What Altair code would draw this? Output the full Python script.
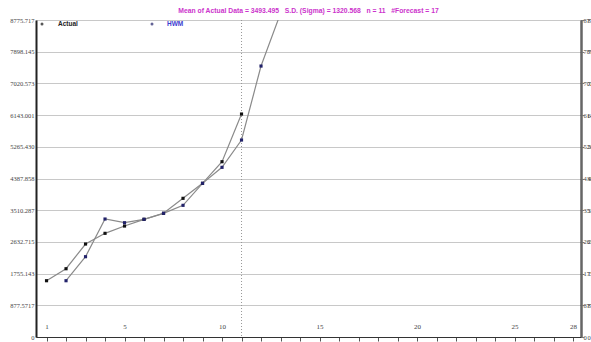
import altair as alt
import pandas as pd

# ---- data ----
x_actual = list(range(1, 12))
actual_values = [1558, 1890, 2574, 2870, 3072, 3258, 3424, 3839, 4254, 4853, 6173]
x_hwm = list(range(2, 14))
hwm_values = [1558, 2223, 3266, 3164, 3258, 3424, 3645, 4254, 4697, 5453, 7501, 8960]
series_names = ["Actual", "HWM"]
y_ticks = [0, 877.5717, 1755.143, 2632.715, 3510.287, 4387.858, 5265.430,
           6143.001, 7020.573, 7898.145, 8775.717]
x_ticks = list(range(1, 29))
x_label_values = [1, 5, 10, 15, 20, 25, 28]
last_actual = 11
title_text = ("Mean of Actual Data = 3493.495\u00a0\u00a0\u00a0S.D. (Sigma) = 1320.568"
              "\u00a0\u00a0\u00a0n = 11\u00a0\u00a0\u00a0#Forecast = 17")

df = pd.concat([
    pd.DataFrame({"x": x_actual, "value": actual_values, "series": series_names[0]}),
    pd.DataFrame({"x": x_hwm, "value": hwm_values, "series": series_names[1]}),
])

x_dom = [0.46, 28.41]
y_dom = [0, 8775.717]
lbl_font = "Liberation Serif"

y_label_expr = ("datum.value == 0 ? '0' : (datum.value < 1000 ? format(datum.value, '.4f')"
                " : format(datum.value, '.3f'))")
x_label_expr = "indexof(" + str(x_label_values) + ", datum.value) >= 0 ? datum.label : ''"

x_axis = alt.Axis(values=x_ticks, labelExpr=x_label_expr, title=None, grid=False,
                  domainColor="#333", domainWidth=1.2, tickColor="#555", tickSize=4,
                  labelBaseline="middle", labelPadding=-15, labelFont=lbl_font,
                  labelFontSize=7, labelColor="#444", labelFlush=False,
                  labelOverlap=False, labelBound=False)
X = alt.X("x:Q", scale=alt.Scale(domain=x_dom, nice=False, zero=False), axis=x_axis)
Y = alt.Y("value:Q", scale=alt.Scale(domain=y_dom, nice=False, zero=True),
          axis=alt.Axis(values=y_ticks, labelExpr=y_label_expr, title=None,
                        grid=True, gridColor="#c8c8c8", gridWidth=1,
                        domainColor="#222", domainWidth=2, ticks=False, labelPadding=2,
                        labelFont=lbl_font, labelFontSize=6.5, labelColor="#444",
                        labelFlush=False, labelOverlap=False))

base = alt.Chart(df)

vline = alt.Chart(alt.Data(values=[{"x": last_actual}])).mark_rule(
    color="#999", strokeDash=[1, 2], strokeWidth=1
).encode(x=X)

lines = base.mark_line(color="#8a8a8a", strokeWidth=1.2, clip=True).encode(
    x=X, y=Y, detail="series:N"
)

points = base.mark_point(shape="square", filled=True, size=10, opacity=1, clip=True).encode(
    x=X, y=Y,
    color=alt.Color("series:N", scale=alt.Scale(domain=series_names, range=["#111111", "#22226a"]),
                    legend=None),
)

right_axis = base.mark_point(opacity=0).encode(
    x=X,
    y=alt.Y("value:Q", scale=alt.Scale(domain=y_dom, nice=False, zero=True),
            axis=alt.Axis(orient="right", values=y_ticks, labelExpr=y_label_expr, title=None,
                          grid=False, domainColor="#666", domainWidth=1.2,
                          tickColor="#777", tickSize=3,
                          labelPadding=3, labelFont=lbl_font, labelFontSize=6.5,
                          labelColor="#444", labelFlush=False, labelOverlap=False)),
)

one = alt.Data(values=[{"a": 1}])
leg_font = "Liberation Sans"
leg_dot1 = alt.Chart(one).mark_point(shape="circle", filled=True, size=9, color="#111").encode(
    x=alt.value(6), y=alt.value(4))
leg_txt1 = alt.Chart(one).mark_text(align="left", baseline="middle", font=leg_font,
                                     fontSize=6.5, fontWeight="bold", color="#222").encode(
    x=alt.value(22), y=alt.value(4), text=alt.value(series_names[0]))
leg_dot2 = alt.Chart(one).mark_point(shape="circle", filled=True, size=9, color="#22226a").encode(
    x=alt.value(116), y=alt.value(4))
leg_txt2 = alt.Chart(one).mark_text(align="left", baseline="middle", font=leg_font,
                                     fontSize=6.5, fontWeight="bold", color="#3b3bd0").encode(
    x=alt.value(131), y=alt.value(4), text=alt.value(series_names[1]))

chart = alt.layer(
    vline, lines, points, leg_dot1, leg_txt1, leg_dot2, leg_txt2, right_axis
).resolve_scale(y="independent").properties(
    width=545, height=317,
    autosize=alt.AutoSizeParams(type="none"),
    padding={"left": 36, "top": 20, "right": 10, "bottom": 5},
    title=alt.TitleParams(title_text, color="#cc33cc", fontSize=6.8, font="Liberation Sans",
                          fontWeight="bold", anchor="middle", offset=-4),
).configure_view(stroke="#666", strokeWidth=1.2).configure(background="white")

chart.save("out.html", embed_options={"renderer": "svg", "actions": False})
